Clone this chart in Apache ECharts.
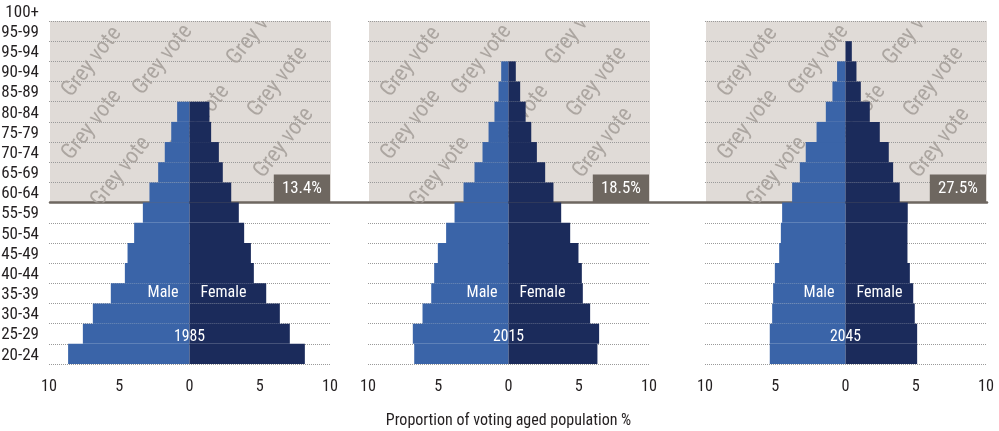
<!DOCTYPE html>
<html><head><meta charset="utf-8">
<script src="https://cdn.jsdelivr.net/npm/echarts@6/dist/echarts.min.js"></script>
<style>html,body{margin:0;padding:0;background:#fff}#c{width:999px;height:431px}</style>
</head><body><div id="c"></div>
<script>
// ---------- data ----------
const ageGroups = ['20-24','25-29','30-34','35-39','40-44','45-49','50-54','55-59','60-64','65-69','70-74','75-79','80-84','85-89','90-94','95-94','95-99','100+'];
const years = ['1985', '2015', '2045'];
const male1985   = [8.64,7.59,6.88,5.60,4.60,4.41,3.94,3.32,2.85,2.23,1.76,1.30,0.88,0,0,0,0];
const female1985 = [8.21,7.14,6.43,5.46,4.58,4.37,3.89,3.51,2.97,2.37,2.09,1.54,1.42,0,0,0,0];
const male2015   = [6.71,6.81,6.12,5.50,5.29,5.03,4.44,3.84,3.20,2.42,1.85,1.42,1.00,0.71,0.52,0,0];
const female2015 = [6.33,6.45,5.81,5.29,5.22,4.98,4.39,3.75,3.20,2.61,2.02,1.62,1.22,0.83,0.52,0,0];
const male2045   = [5.39,5.39,5.22,5.15,5.03,4.72,4.60,4.51,3.80,3.25,2.83,2.06,1.40,0.93,0.60,0,0];
const female2045 = [5.10,5.10,4.93,4.82,4.58,4.41,4.41,4.43,3.86,3.39,3.08,2.44,1.73,1.09,0.78,0.45,0];
const greyVoteShare = [13.4, 18.5, 27.5];
const axisTitle = 'Proportion of voting aged population %';
const watermarkText = 'Grey vote';

// ---------- font choice (narrowest installed condensed face) ----------
const mctx = document.createElement('canvas').getContext('2d');
function textW(txt, size, fam) { mctx.font = size + 'px ' + fam; return mctx.measureText(txt).width; }
const candidates = ['Roboto Condensed', 'Noto Sans ExtraCondensed', 'Noto Sans Condensed', 'Liberation Sans Narrow', 'Arial Narrow', 'Open Sans Condensed', 'DejaVu Sans Condensed'];
let family = 'DejaVu Sans Condensed';
for (const c of candidates) {
  const probe = 'Proportion of voting 0123456789';
  if (textW(probe, 40, '"' + c + '", monospace') !== textW(probe, 40, 'monospace')) { family = c; break; }
}
const FONT = "'" + family + "', sans-serif";
function fit(txt, target) { return Math.round(20 * target / textW(txt, 20, FONT) * 10) / 10; }
const fsAge = Math.min(17, fit('80-84', 38));
const fsTick = Math.min(17, fit('10', 16));
const fsTitle = Math.min(18, fit(axisTitle, 245));
const fsBox = Math.min(18, fit('13.4%', 40));
const fsSex = Math.min(18, fit('Male', 31));
const fsYear = Math.min(18, fit('1985', 31));
const fsMark = fit(watermarkText, 82);

// ---------- layout / style ----------
const maleData = [male1985, male2015, male2045];
const femaleData = [female1985, female2015, female2045];
const plotCats = ageGroups.slice(0, 17);
const greyStart = plotCats.indexOf('60-64');
const labelRow = plotCats.indexOf('35-39');
const yearRow = '25-29';
const panelLeft = [49, 368, 705];
const panelWidth = 281, plotTop = 21, plotHeight = 343;
const rowH = plotHeight / plotCats.length;
const MALE = '#3a64a8', FEMALE = '#1b2b5b', GREY = '#e0dbd7', BROWN = '#6e6760', TXT = '#231f20';
const watermarkSpots = [[42,41],[113,39],[207,9],[42,104],[150,99],[228,61],[71,151],[234,122]];

const grids = [], xAxis = [], yAxis = [], series = [];

for (let i = 0; i < 3; i++) {
  grids.push({left: panelLeft[i], top: plotTop, width: panelWidth, height: plotHeight, outerBoundsMode: 'none', containLabel: false});
  xAxis.push({
    gridIndex: i, type: 'value', min: -10, max: 10, interval: 5,
    axisLine: {show: false}, axisTick: {show: false}, splitLine: {show: false},
    axisLabel: {formatter: v => String(Math.abs(v)), fontSize: fsTick, color: TXT, fontFamily: FONT, margin: 15},
    name: i === 1 ? axisTitle : '', nameLocation: 'middle', nameGap: 49,
    nameTextStyle: {fontSize: fsTitle, color: TXT, fontFamily: FONT}
  });
  yAxis.push({
    gridIndex: i, type: 'category', data: plotCats,
    axisLine: {show: false}, axisTick: {show: false}, axisLabel: {show: false, interval: 0},
    splitLine: {show: true, interval: 0, lineStyle: {color: '#9a9a9a', type: 'dotted', width: 1}}
  });
}
for (let i = 0; i < 3; i++) {
  yAxis.push({gridIndex: i, type: 'value', min: 0, max: plotCats.length, show: false});
}
// age label column
grids.push({left: 40, top: plotTop - rowH + 1.5, width: 1, height: rowH * ageGroups.length, outerBoundsMode: 'none', containLabel: false});
xAxis.push({gridIndex: 3, type: 'value', show: false, min: 0, max: 1});
yAxis.push({gridIndex: 3, type: 'category', data: ageGroups,
  axisLine: {show: false}, axisTick: {show: false}, splitLine: {show: false},
  axisLabel: {interval: 0, fontSize: fsAge, color: TXT, fontFamily: FONT, margin: 1}});
// threshold line across the panels
const greyH = rowH * (plotCats.length - greyStart);
grids.push({left: panelLeft[0] + 1, right: 999 - (panelLeft[2] + panelWidth + 1), top: plotTop, height: greyH, outerBoundsMode: 'none', containLabel: false});
xAxis.push({gridIndex: 4, type: 'value', min: 0, max: 1, position: 'bottom',
  axisLine: {show: true, lineStyle: {color: BROWN, width: 2.5}},
  axisTick: {show: false}, axisLabel: {show: false}, splitLine: {show: false}});
yAxis.push({gridIndex: 4, type: 'value', min: 0, max: 1, show: false});
// grey bands with watermark
for (let i = 0; i < 3; i++) {
  grids.push({left: panelLeft[i] + 1, top: plotTop, width: panelWidth, height: greyH,
    show: true, backgroundColor: GREY, borderWidth: 0, outerBoundsMode: 'none', containLabel: false});
  xAxis.push({gridIndex: 5 + i, type: 'value', min: 0, max: panelWidth, show: false});
  yAxis.push({gridIndex: 5 + i, type: 'value', min: 0, max: greyH, inverse: true, show: false});
  series.push({
    type: 'custom', xAxisIndex: 5 + i, yAxisIndex: 8 + i,
    clip: true, z: 0.5, silent: true,
    data: watermarkSpots,
    renderItem: (params, api) => {
      const cs = params.coordSys;
      return {
        type: 'text', x: cs.x + api.value(0), y: cs.y + api.value(1),
        rotation: 52 * Math.PI / 180,
        style: {text: watermarkText, fill: '#aca6a1', fontSize: fsMark, fontFamily: FONT,
                align: 'center', verticalAlign: 'middle'}
      };
    }
  });
}

for (let i = 0; i < 3; i++) {
  series.push({
    type: 'bar', name: 'Male ' + years[i], xAxisIndex: i, yAxisIndex: i, stack: 'p' + i,
    barCategoryGap: '0%', itemStyle: {color: MALE},
    data: maleData[i].map((v, k) => k === labelRow ? {value: -v,
      label: {show: true, position: 'insideRight', distance: 11, formatter: 'Male',
              color: '#fff', fontSize: fsSex, fontFamily: FONT}} : -v)
  });
  series.push({
    type: 'bar', name: 'Female ' + years[i], xAxisIndex: i, yAxisIndex: i, stack: 'p' + i,
    barCategoryGap: '0%', itemStyle: {color: FEMALE},
    data: femaleData[i].map((v, k) => k === labelRow ? {value: v,
      label: {show: true, position: 'insideLeft', distance: 11, formatter: 'Female',
              color: '#fff', fontSize: fsSex, fontFamily: FONT}} : v),
    markPoint: {
      symbol: 'circle', symbolSize: 1, itemStyle: {color: 'rgba(0,0,0,0)'}, silent: true,
      label: {show: true, position: 'inside', offset: [0, 3], formatter: years[i], color: '#fff', fontSize: fsYear, fontFamily: FONT},
      data: [{coord: [0, yearRow]}]
    }
  });
  series.push({
    type: 'line', xAxisIndex: i, yAxisIndex: 3 + i, data: [], silent: true,
    markArea: {
      silent: true,
      itemStyle: {color: BROWN, opacity: 1},
      label: {show: true, position: 'inside', color: '#fff', fontSize: fsBox, fontFamily: FONT,
              formatter: greyVoteShare[i].toFixed(1) + '%'},
      data: [[{xAxis: 6, yAxis: greyStart}, {xAxis: 10, yAxis: greyStart + 1.39}]]
    }
  });
}

const chart = echarts.init(document.getElementById('c'), null, {renderer: 'canvas'});
chart.setOption({
  animation: false,
  textStyle: {fontFamily: FONT},
  grid: grids, xAxis: xAxis, yAxis: yAxis, series: series
});
</script></body></html>
